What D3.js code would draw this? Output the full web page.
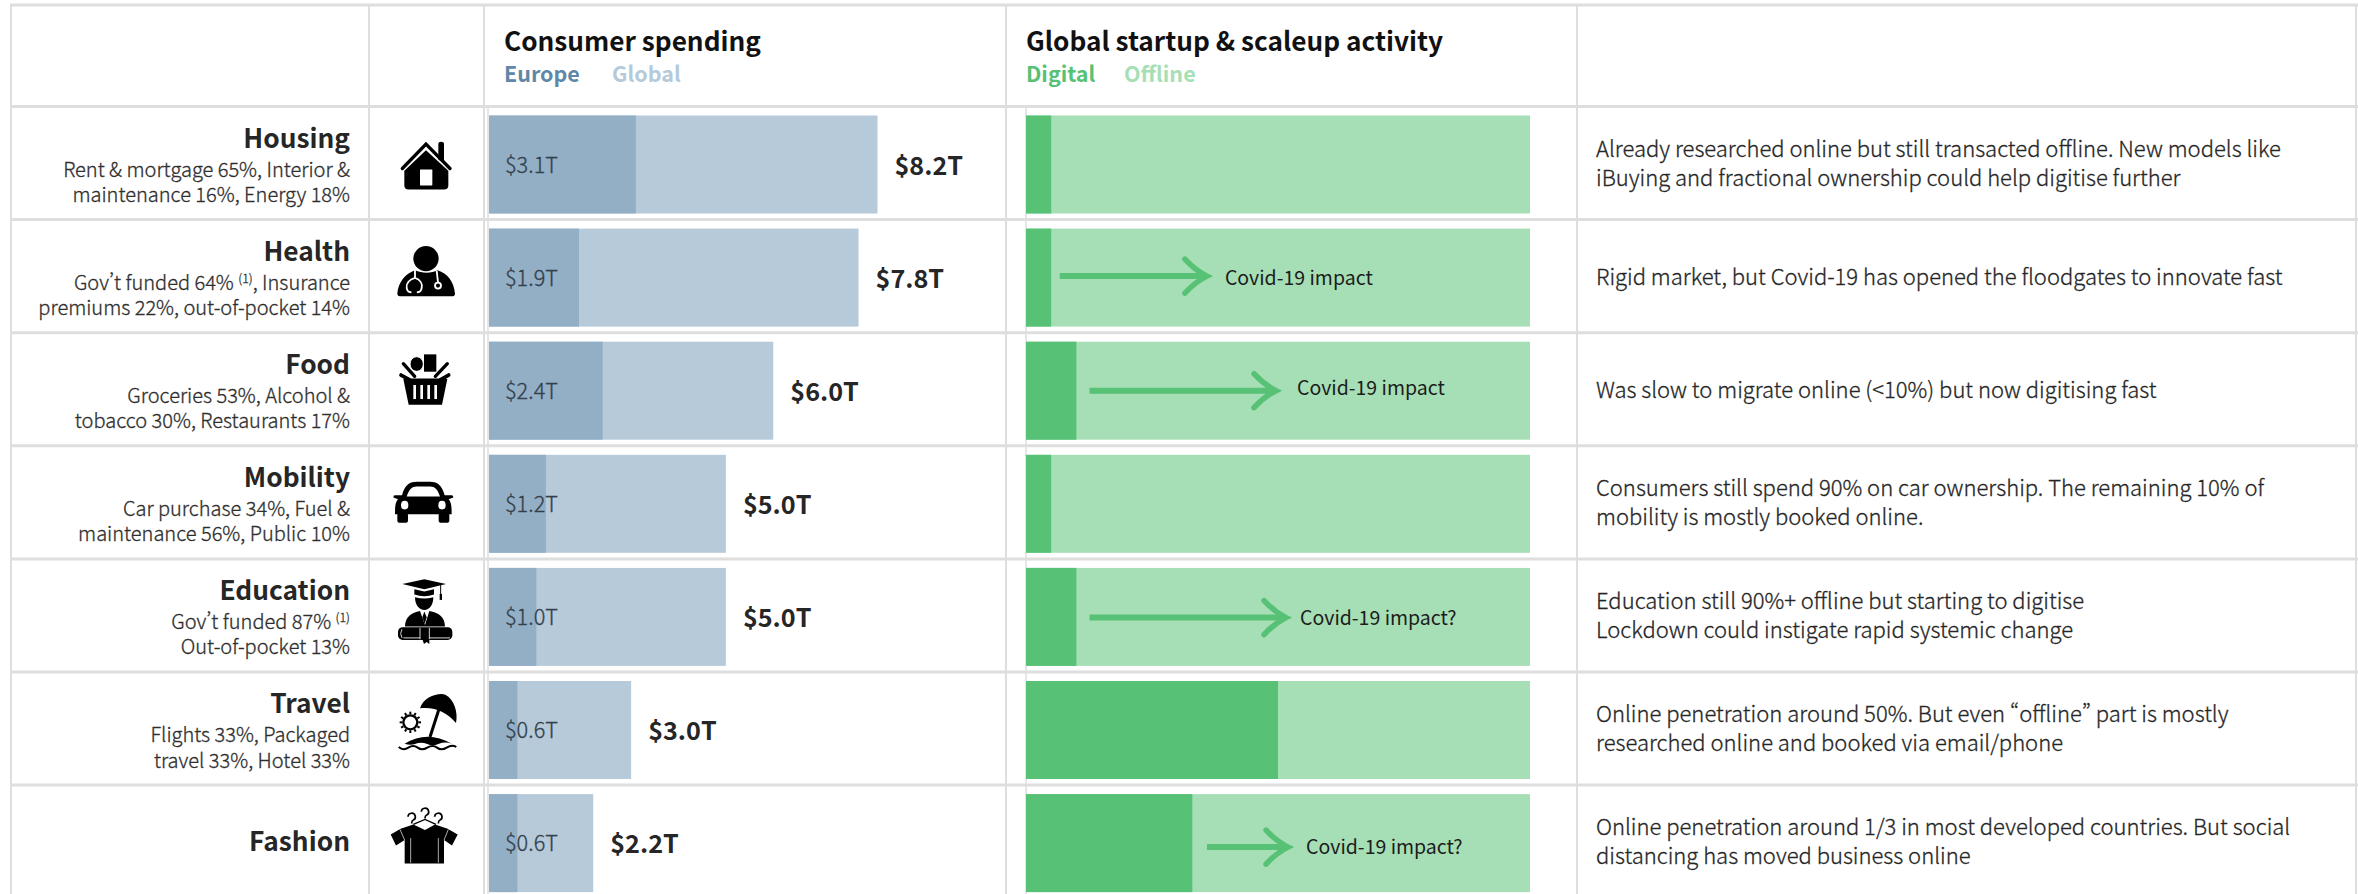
<!DOCTYPE html>
<html lang="en">
<head>
<meta charset="utf-8">
<title>Consumer spending and startup activity by sector</title>
<script src="https://cdn.jsdelivr.net/npm/d3@7/dist/d3.min.js"></script>
<style>
  html, body { margin: 0; padding: 0; background: #fff; overflow: hidden; }
  svg { display: block; font-family: "Noto Sans CJK SC", "Noto Sans", sans-serif; font-feature-settings: "pwid" 1; }
  .body-text { font-weight: 300; stroke-width: 0.3px; paint-order: stroke; }
</style>
</head>
<body>
<svg id="chart" width="2358" height="894"></svg>
<script>
// Sector data
const categories = ["Housing", "Health", "Food", "Mobility", "Education", "Travel", "Fashion"];
const europeSpend = [3.1, 1.9, 2.4, 1.2, 1.0, 0.6, 0.6];
const globalSpend = [8.2, 7.8, 6.0, 5.0, 5.0, 3.0, 2.2];
const digitalShare = [5, 5, 10, 5, 10, 50, 33];
const breakdownLines = [
  ["Rent & mortgage 65%, Interior &", "maintenance 16%, Energy 18%"],
  ["Gov’t funded 64% ^(1), Insurance", "premiums 22%, out-of-pocket 14%"],
  ["Groceries 53%, Alcohol &", "tobacco 30%, Restaurants 17%"],
  ["Car purchase 34%, Fuel &", "maintenance 56%, Public 10%"],
  ["Gov’t funded 87% ^(1)", "Out-of-pocket 13%"],
  ["Flights 33%, Packaged", "travel 33%, Hotel 33%"],
  []
];
const commentary = [
  ["Already researched online but still transacted offline. New models like", "iBuying and fractional ownership could help digitise further"],
  ["Rigid market, but Covid-19 has opened the floodgates to innovate fast"],
  ["Was slow to migrate online (<10%) but now digitising fast"],
  ["Consumers still spend 90% on car ownership. The remaining 10% of", "mobility is mostly booked online."],
  ["Education still 90%+ offline but starting to digitise", "Lockdown could instigate rapid systemic change"],
  ["Online penetration around 50%. But even “offline” part is mostly", "researched online and booked via email/phone"],
  ["Online penetration around 1/3 in most developed countries. But social", "distancing has moved business online"]
];
// Expected shift in digital share, as [from, to] on the same percentage axis
const impactArrows = [null, [6.7, 35.9], [12.6, 49.6], null, [12.6, 51.6], null, [35.9, 52]];
const impactLabels = [null, "Covid-19 impact", "Covid-19 impact", null, "Covid-19 impact?", null, "Covid-19 impact?"];

const colors = {
  europe: "#93afc6", global: "#b7cada", digital: "#57c175", offline: "#a6dfb5",
  europeText: "#5f87a8", globalText: "#b4cadb", grid: "#dedede", ink: "#262626"
};

const svg = d3.select("#chart");
const rowY = d3.scaleBand().domain(categories).range([106.5, 106.5 + 7 * 113.1]);
const spendX = d3.scaleLinear().domain([0, 8.2]).range([489, 877.5]);
const shareX = d3.scaleLinear().domain([0, 100]).range([1026, 1530]);
const barOffset = 9, barHeight = 98;
const fs = { title: 26.2, legend: 21.5, name: 26.3, sub: 20, value: 25.2, inner: 21.7, note: 22, impact: 19.5 };

// Table grid
const grid = svg.append("g").attr("stroke", colors.grid);
const hLines = [5, ...categories.map(c => rowY(c))];
grid.selectAll("line.h").data(hLines).join("line").attr("class", "h")
  .attr("x1", 10).attr("x2", 2358).attr("y1", d => d).attr("y2", d => d).attr("stroke-width", 3);
grid.selectAll("line.v").data([11, 369, 484, 1006, 1577, 2356]).join("line").attr("class", "v")
  .attr("x1", d => d).attr("x2", d => d).attr("y1", 5).attr("y2", 894).attr("stroke-width", 2);
grid.selectAll("line.base").data([spendX(0) - 1, shareX(0)]).join("line").attr("class", "base")
  .attr("x1", d => d).attr("x2", d => d).attr("y1", 108).attr("y2", 894).attr("stroke-width", 1.5);

// Column headers
function header(x, title, keys) {
  svg.append("text").attr("x", x).attr("y", 51).attr("font-size", fs.title).attr("font-weight", 700)
    .attr("fill", "#111").text(title);
  keys.forEach(k => svg.append("text").attr("x", k.x).attr("y", 82).attr("font-size", fs.legend)
    .attr("font-weight", 700).attr("fill", k.color).text(k.label));
}
header(504, "Consumer spending", [
  { x: 504, label: "Europe", color: colors.europeText },
  { x: 612, label: "Global", color: colors.globalText }
]);
header(1026, "Global startup & scaleup activity", [
  { x: 1026, label: "Digital", color: colors.digital },
  { x: 1124, label: "Offline", color: colors.offline }
]);

// One group per table row
const rows = svg.selectAll("g.row").data(categories).join("g").attr("class", "row")
  .attr("transform", d => `translate(0,${rowY(d)})`);

rows.append("text").attr("x", 350).attr("text-anchor", "end")
  .attr("y", (d, i) => breakdownLines[i].length ? 41 : 66)
  .attr("font-size", fs.name).attr("font-weight", 700).attr("fill", colors.ink).text(d => d);

// Arrow placement inside the green bars: row height offset and label start
const arrowLayout = {
  Health: { ay: 56.5, labelY: 65, labelGap: 18 },
  Food: { ay: 58, labelY: 62, labelGap: 21 },
  Education: { ay: 58.7, labelY: 66, labelGap: 14 },
  Fashion: { ay: 62, labelY: 69, labelGap: 18 }
};

rows.each(function (d, i) {
  const g = d3.select(this);
  breakdownLines[i].forEach((line, j) => {
    const t = g.append("text").attr("class", "body-text").attr("x", 350).attr("y", 70 + j * 25.5)
      .attr("text-anchor", "end").attr("font-size", fs.sub).attr("fill", "#2e2e2e").attr("stroke", "#2e2e2e");
    let raised = false;
    line.split(/(\^\(1\))/).forEach(part => {
      if (part === "^(1)") {
        t.append("tspan").attr("font-size", fs.sub * 0.62).attr("dy", -7).text("(1)");
        raised = true;
      } else if (part) {
        t.append("tspan").attr("dy", raised ? 7 : 0).text(part);
        raised = false;
      }
    });
  });

  // Spending bars
  g.append("rect").attr("x", spendX(0)).attr("y", barOffset).attr("height", barHeight)
    .attr("width", spendX(globalSpend[i]) - spendX(0)).attr("fill", colors.global);
  g.append("rect").attr("x", spendX(0)).attr("y", barOffset).attr("height", barHeight)
    .attr("width", spendX(europeSpend[i]) - spendX(0)).attr("fill", colors.europe);
  g.append("text").attr("class", "body-text").attr("x", spendX(0) + 16).attr("y", 66).attr("font-size", fs.inner)
    .attr("fill", "#33404a").attr("stroke", "#33404a").text(`$${europeSpend[i].toFixed(1)}T`);
  g.append("text").attr("x", spendX(globalSpend[i]) + 17).attr("y", 68).attr("font-size", fs.value)
    .attr("font-weight", 700).attr("fill", colors.ink).text(`$${globalSpend[i].toFixed(1)}T`);

  // Digital vs offline bars
  g.append("rect").attr("x", shareX(0)).attr("y", barOffset).attr("height", barHeight)
    .attr("width", shareX(100) - shareX(0)).attr("fill", colors.offline);
  g.append("rect").attr("x", shareX(0)).attr("y", barOffset).attr("height", barHeight)
    .attr("width", shareX(digitalShare[i]) - shareX(0)).attr("fill", colors.digital);

  if (impactArrows[i]) {
    const [from, to] = impactArrows[i];
    const { ay, labelY, labelGap } = arrowLayout[d];
    const x0 = shareX(from), x1 = shareX(to);
    g.append("path").attr("d", `M${x0},${ay}H${x1 - 3}`).attr("stroke", colors.digital)
      .attr("stroke-width", 6).attr("fill", "none");
    g.append("path").attr("d", `M${x1 - 22},${ay - 17}Q${x1 - 12},${ay - 6} ${x1},${ay}Q${x1 - 12},${ay + 6} ${x1 - 22},${ay + 17}`)
      .attr("stroke", colors.digital).attr("stroke-width", 5.5).attr("fill", "none")
      .attr("stroke-linecap", "round");
    g.append("text").attr("x", x1 + labelGap).attr("y", labelY).attr("font-size", fs.impact)
      .attr("fill", "#1c1c1c").text(impactLabels[i]);
  }

  // Commentary
  const lines = commentary[i];
  const noteStart = lines.length === 1 ? 65 : 50;
  lines.forEach((line, j) => g.append("text").attr("class", "body-text").attr("x", 1596).attr("y", noteStart + j * 29)
    .attr("font-size", fs.note).attr("fill", "#262626").attr("stroke", "#262626").text(line));
});

// Sector pictograms, authored at 3x on a cell-local grid
const ink = "#000", paper = "#fff";
const icons = {
  Housing: { line: -9, draw(g) {
    g.append("path").attr("d", "M205,150V103Q205,97 213,97Q222,97 222,103V160Z").attr("fill", ink);
    g.append("path").attr("d", "M97,177L168,104L240,177").attr("fill", "none").attr("stroke", ink)
      .attr("stroke-width", 10).attr("stroke-linecap", "round");
    g.append("path").attr("d", "M103,184L168,122L235,184V228Q235,240 222,240H116Q103,240 103,228Z").attr("fill", ink);
    g.append("rect").attr("x", 150).attr("y", 180).attr("width", 37).attr("height", 48).attr("rx", 2).attr("fill", paper);
  } },
  Health: { line: 330, draw(g) {
    g.append("circle").attr("cx", 168).attr("cy", 447).attr("r", 38).attr("fill", ink);
    g.append("path").attr("d", "M82,552C85,515 108,492 135,482C155,492 185,492 203,482C232,492 252,515 255,552Q255,560 248,560H90Q82,560 82,552Z").attr("fill", ink);
    g.append("path").attr("d", "M135,483V505C118,510 108,522 110,535Q112,548 122,548M135,505C150,510 158,522 155,535Q153,548 143,548")
      .attr("fill", "none").attr("stroke", paper).attr("stroke-width", 5.5).attr("stroke-linecap", "round");
    g.append("path").attr("d", "M200,483L204,518").attr("stroke", paper).attr("stroke-width", 5.5);
    g.append("circle").attr("cx", 204).attr("cy", 528).attr("r", 9).attr("fill", ink).attr("stroke", paper).attr("stroke-width", 5.5);
  } },
  Food: { line: 669, draw(g) {
    g.append("rect").attr("x", 162).attr("y", 734).attr("width", 37).attr("height", 52).attr("fill", ink);
    g.append("ellipse").attr("cx", 140).attr("cy", 763).attr("rx", 20).attr("ry", 22).attr("fill", ink).attr("stroke", paper).attr("stroke-width", 3);
    g.append("path").attr("d", "M100,762L134,800M232,762L196,800").attr("stroke", ink).attr("stroke-width", 10).attr("stroke-linecap", "round");
    g.append("path").attr("d", "M93,796L122,812H208L236,796").attr("stroke", ink).attr("stroke-width", 11).attr("fill", "none").attr("stroke-linecap", "round");
    g.append("path").attr("d", "M100,808H232L216,885H116Z").attr("fill", ink);
    g.selectAll("rect.slot").data([130, 151, 172, 193]).join("rect").attr("class", "slot")
      .attr("x", d => d).attr("y", 826).attr("width", 8).attr("height", 42).attr("fill", paper);
  } },
  Mobility: { line: 0, draw(g) {
    g.append("path").attr("d", "M96,148C105,120 115,108 140,108H180C205,108 215,120 224,148H245Q250,148 250,155L236,160C244,170 245,180 245,205H75C75,180 76,170 84,160L70,155Q70,148 75,148Z").attr("fill", ink);
    g.append("path").attr("d", "M110,152C118,130 125,122 140,122H180C195,122 202,130 210,152Z").attr("fill", paper);
    g.append("rect").attr("x", 82).attr("y", 200).attr("width", 32).attr("height", 31).attr("rx", 8).attr("fill", ink);
    g.append("rect").attr("x", 206).attr("y", 200).attr("width", 32).attr("height", 31).attr("rx", 8).attr("fill", ink);
    g.append("ellipse").attr("cx", 104).attr("cy", 178).attr("rx", 11).attr("ry", 13).attr("fill", paper);
    g.append("ellipse").attr("cx", 216).attr("cy", 178).attr("rx", 11).attr("ry", 13).attr("fill", paper);
  } },
  Education: { line: -3, draw(g) {
    g.append("path").attr("d", "M97,72L163,58L228,72L163,88Z").attr("fill", ink);
    g.append("path").attr("d", "M212,72V112").attr("stroke", ink).attr("stroke-width", 3);
    g.append("rect").attr("x", 209).attr("y", 102).attr("width", 7).attr("height", 18).attr("fill", ink);
    g.append("path").attr("d", "M133,88L163,95L192,88V104Q163,114 133,104Z").attr("fill", ink);
    g.append("path").attr("d", "M135,112Q163,120 190,112C190,135 178,150 163,150C148,150 135,135 135,112Z").attr("fill", ink);
    g.append("path").attr("d", "M105,200C105,170 125,158 150,153L165,195L178,153C205,158 225,170 225,200Z").attr("fill", ink);
    g.append("path").attr("d", "M163,155L157,172L164,192L170,172Z").attr("fill", ink);
    g.append("rect").attr("x", 84).attr("y", 202).attr("width", 163).attr("height", 38).attr("rx", 14).attr("fill", ink);
    g.append("path").attr("d", "M96,208Q88,220 96,234M100,234H150M178,234H240M150,204V238M178,204V238").attr("stroke", paper).attr("stroke-width", 2.5).attr("fill", "none");
    g.append("path").attr("d", "M157,238L162,252L170,246L178,252V238Z").attr("fill", ink);
  } },
  Travel: { line: 337, draw(g) {
    g.append("path").attr("d", "M150,446C160,412 205,398 226,405C252,418 265,458 258,490C232,458 192,440 150,446Z").attr("fill", ink);
    g.append("path").attr("d", "M208,445L180,532").attr("stroke", ink).attr("stroke-width", 9);
    g.append("circle").attr("cx", 121).attr("cy", 488).attr("r", 21).attr("fill", paper).attr("stroke", ink).attr("stroke-width", 7);
    g.selectAll("path.ray").data(d3.range(12)).join("path").attr("class", "ray")
      .attr("d", "M121,456V464").attr("stroke", ink).attr("stroke-width", 6)
      .attr("transform", d => `rotate(${d * 30},121,488)`);
    g.append("path").attr("d", "M104,552Q172,510 245,552Q225,545 205,553Q188,561 172,553Q152,545 135,553Q120,558 104,552Z").attr("fill", ink);
    g.append("path").attr("d", "M86,562Q100,574 115,564T143,564T172,564T201,564T230,564T259,562").attr("fill", "none").attr("stroke", ink).attr("stroke-width", 6);
  } },
  Fashion: { line: 677, draw(g) {
    g.append("path").attr("d", "M92,808L62,825L78,858L104,842V912H222V842L246,858L263,825L233,808L195,795L165,812L130,795Z").attr("fill", ink);
    g.append("path").attr("d", "M90,810L104,842M235,810L222,842M122,836V910M205,836V910").attr("stroke", paper).attr("stroke-width", 2).attr("fill", "none");
    g.append("path").attr("d", "M130,795L165,780L198,795").attr("fill", "none").attr("stroke", ink).attr("stroke-width", 4);
    [[125, 772], [165, 757], [205, 772]].forEach(([x, y]) =>
      g.append("path").attr("d", `M${x - 11},${y}A11,11 0 1 1 ${x + 5},${y + 10}Q${x},${y + 12} ${x},${y + 20}`)
        .attr("fill", "none").attr("stroke", ink).attr("stroke-width", 5));
  } }
};
rows.each(function (d, i) {
  const icon = icons[d];
  const g = d3.select(this).append("g").attr("class", "icon")
    .attr("transform", `translate(370,0) scale(${1 / 3}) translate(0,${-icon.line})`);
  icon.draw(g);
});
</script>
</body>
</html>
